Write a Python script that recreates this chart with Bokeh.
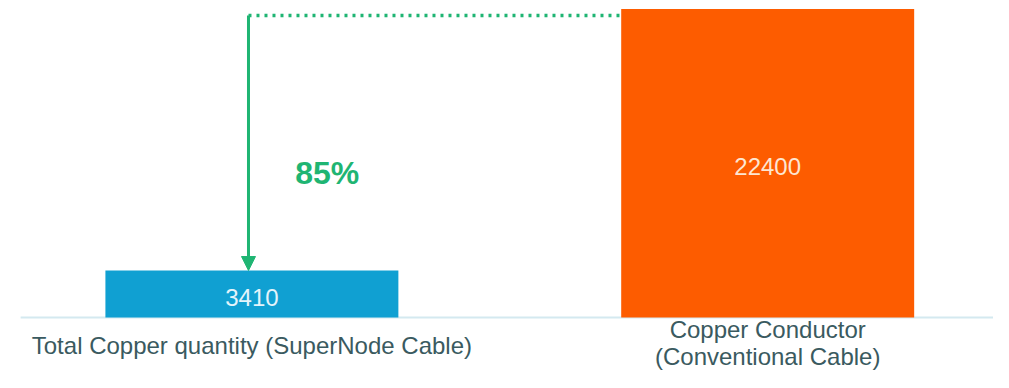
from bokeh.plotting import figure
from bokeh.models import Range1d, Arrow, NormalHead, ColumnDataSource, Label
from bokeh.embed import file_html
from bokeh.resources import INLINE
from bokeh.core.properties import value

# ---- data ----
categories = ["Total Copper quantity (SuperNode Cable)", "Copper Conductor\n(Conventional Cable)"]
copper = [3410, 22400]
value_labels = ["3410", "22400"]
bar_colors = ["#10a0d2", "#fd5c00"]
label_colors = ["#e4f4fb", "#fde6d2"]
reduction_label = "85%"
connector_level = 21928

FONT = "Liberation Sans"
GREEN = "#1fb573"
BAR_W = 0.568

positions = list(range(len(categories)))
src = ColumnDataSource(dict(
    x=positions,
    zero=[0] * len(positions),
    top=copper,
    mid=[v / 2 for v in copper],
    color=bar_colors,
    lbl=value_labels,
    lcolor=label_colors,
    cat=categories,
    cat_off=[15, -1],
))

X0, X1 = -0.4874, 1.4378
p = figure(width=993, height=372, output_backend="svg", toolbar_location=None,
           x_range=Range1d(X0, X1), y_range=Range1d(-3994, 23017),
           x_axis_location=None, y_axis_location=None,
           min_border_left=0, min_border_right=0, min_border_top=0, min_border_bottom=0)
p.outline_line_color = None
p.xgrid.visible = False
p.ygrid.visible = False
p.background_fill_color = "white"
p.border_fill_color = "white"

# baseline
p.line(x=[X0 + 0.039, X1], y=[0, 0], line_color="#d4e9f0", line_width=2)

p.vbar(x="x", top="top", width=BAR_W, bottom=0, fill_color="color", line_color=None, source=src)
p.text(x="x", y="mid", text="lbl", text_color="lcolor", text_font=value(FONT),
       text_font_size="24px", text_align="center", text_baseline="middle",
       y_offset=3, source=src)

# category labels under the baseline
p.text(x="x", y="zero", text="cat", text_color="#3a5a60", text_font=value(FONT),
       text_font_size="24px", text_align="center", text_baseline="top",
       text_line_height=1.0, y_offset="cat_off", source=src)

arrow_x = positions[0] - 0.0066
p.line(x=[arrow_x, positions[1] - BAR_W / 2], y=[connector_level, connector_level],
       line_color=GREEN, line_width=3.5, line_dash="3 5")
p.add_layout(Arrow(x_start=arrow_x, y_start=connector_level, x_end=arrow_x, y_end=copper[0],
                   line_color=GREEN, line_width=3,
                   end=NormalHead(size=14, fill_color=GREEN, line_color=GREEN, line_width=1)))
p.add_layout(Label(x=0.146, y=10528, text=reduction_label, text_color=GREEN,
                   text_font=FONT, text_font_size="32px", text_font_style="bold",
                   text_align="center", text_baseline="middle"))

open("out.html", "w").write(file_html(p, INLINE))
